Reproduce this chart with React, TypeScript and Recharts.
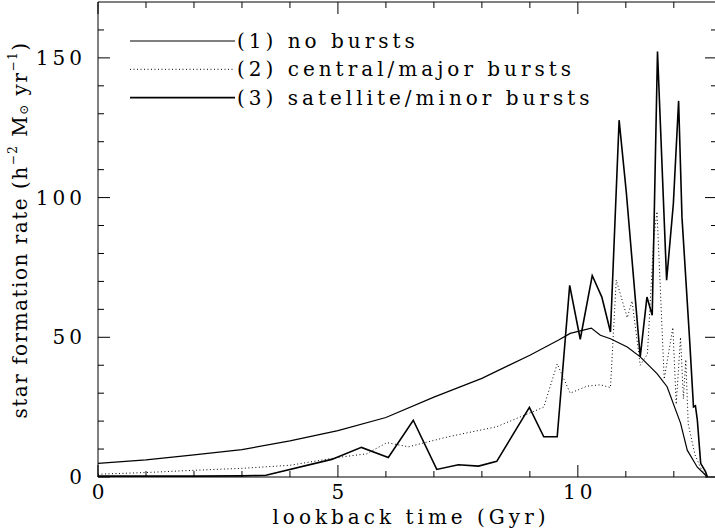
import { LineChart, Line, XAxis, YAxis } from "recharts";

// lookback time (Gyr) and star formation rate samples for each model
const tNoBursts = [0, 1, 2, 3, 4, 5, 6, 7, 8, 9, 9.6, 9.84, 10.28, 10.47, 10.68, 11.03, 11.3, 11.65, 11.86, 12.14, 12.28, 12.49, 12.7];
const sfrNoBursts = [4.9, 6.1, 7.9, 9.8, 12.9, 16.6, 21.3, 28.6, 35.3, 43.6, 49, 51.4, 53.3, 50.7, 49.5, 46.5, 43, 37, 32.3, 19.3, 9.6, 3.5, 0];

const tCentral = [0, 1, 2, 3, 4, 5, 5.6, 6.02, 6.47, 7.3, 8.31, 9.29, 9.57, 9.84, 10.19, 10.47, 10.68, 10.8, 11.03, 11.13, 11.3, 11.45, 11.58, 11.65, 11.8, 11.98, 12.05, 12.14, 12.2, 12.25, 12.3, 12.44, 12.58, 12.7];
const sfrCentral = [1, 1.6, 2.4, 3.1, 4.2, 7, 8.3, 12.3, 10.8, 14.4, 18, 25, 40.5, 30, 32.5, 33, 32, 70.5, 57, 63, 40, 44, 85, 95, 35, 53.5, 26, 50, 28, 42, 19, 8, 2.5, 0];

const tSatellite = [0, 1, 2, 3, 3.5, 4.87, 5.49, 6.05, 6.57, 7.06, 7.51, 7.93, 8.31, 8.99, 9.29, 9.57, 9.83, 10.05, 10.3, 10.5, 10.68, 10.86, 11.01, 11.3, 11.44, 11.55, 11.66, 11.85, 11.99, 12.1, 12.17, 12.33, 12.41, 12.45, 12.49, 12.56, 12.66, 12.7];
const sfrSatellite = [0.3, 0.3, 0.3, 0.4, 0.6, 6.3, 10.6, 7, 20.3, 2.7, 4.4, 3.9, 5.6, 24.9, 14.4, 14.4, 68.6, 49.3, 72.1, 64.4, 51.9, 127.7, 101.9, 43, 64.4, 57.9, 152.3, 70.4, 97.7, 134.6, 93, 48.9, 25.1, 25.5, 20.4, 4.9, 1.9, 0];

const legendLabels = ["(1) no bursts", "(2) central/major bursts", "(3) satellite/minor bursts"];

const xTicks = [0, 1, 2, 3, 4, 5, 6, 7, 8, 9, 10, 11, 12];
const yTicks = [0, 10, 20, 30, 40, 50, 60, 70, 80, 90, 100, 110, 120, 130, 140, 150, 160];

const zip = (t: number[], v: number[]) => t.map((x, i) => ({ t: x, v: v[i] }));

const FONT = "'DejaVu Serif', serif";
const textStyle = { fontFamily: FONT, fontSize: 20, letterSpacing: 4, fill: "#000" };

function BottomTick({ x, y, payload }: any) {
  const major = payload.value % 5 === 0;
  return (
    <g>
      <line x1={x} y1={y} x2={x} y2={y - (major ? 12 : 6)} stroke="#000" />
      {major && (
        <text x={x + 2} y={y + 15} textAnchor="middle" dominantBaseline="central" style={textStyle}>
          {payload.value}
        </text>
      )}
    </g>
  );
}

function TopTick({ x, y, payload }: any) {
  const major = payload.value % 5 === 0;
  return <line x1={x} y1={y} x2={x} y2={y + (major ? 12 : 6)} stroke="#000" />;
}

function LeftTick({ x, y, payload }: any) {
  const major = payload.value % 50 === 0;
  return (
    <g>
      <line x1={x} y1={y} x2={x + (major ? 12 : 6)} y2={y} stroke="#000" />
      {major && (
        <text x={x - 12} y={y} textAnchor="end" dominantBaseline="central" style={textStyle}>
          {payload.value}
        </text>
      )}
    </g>
  );
}

function RightTick({ x, y, payload }: any) {
  const major = payload.value % 50 === 0;
  return <line x1={x} y1={y} x2={x - (major ? 12 : 6)} y2={y} stroke="#000" />;
}

function XTitle() {
  return (
    <text x={411} y={517} textAnchor="middle" dominantBaseline="central" style={textStyle}>
      lookback time (Gyr)
    </text>
  );
}

function YTitle() {
  return (
    <text
      x={20}
      y={230}
      transform="rotate(-90 20 230)"
      textAnchor="middle"
      dominantBaseline="central"
      style={{ ...textStyle, letterSpacing: 1.5 }}
    >
      star formation rate (h
      <tspan dy={-7} fontSize={12}>−2</tspan>
      <tspan dy={7}> M</tspan>
      <tspan dy={4} fontSize={12}>⊙</tspan>
      <tspan dy={-4}> yr</tspan>
      <tspan dy={-7} fontSize={12}>−1</tspan>
      <tspan dy={7}>)</tspan>
    </text>
  );
}

const legendStyles = [
  { width: 1.2, dash: undefined },
  { width: 1, dash: "1 2.5" },
  { width: 1.6, dash: undefined },
];

function LegendBox() {
  return (
    <svg width={715} height={130} style={{ position: "absolute", left: 0, top: 0, pointerEvents: "none" }}>
      {legendLabels.map((label, i) => {
        const y = 41 + i * 28.3;
        return (
          <g key={label}>
            <line x1={130} x2={235} y1={y} y2={y} stroke="#000" strokeWidth={legendStyles[i].width} strokeDasharray={legendStyles[i].dash} />
            <text x={237} y={y} dominantBaseline="central" style={textStyle}>
              {label}
            </text>
          </g>
        );
      })}
    </svg>
  );
}

export default function App() {
  return (
    <div style={{ position: "absolute", left: 0, top: 0, width: 715, height: 531, overflow: "hidden", background: "#fff" }}>
      <LineChart width={718} height={531} margin={{ top: 1, right: 0, bottom: 53, left: 97 }}>
        <XAxis
          xAxisId="bottom"
          type="number"
          dataKey="t"
          domain={[0, 12.9]}
          ticks={xTicks}
          height={1}
          tickSize={0}
          tickMargin={0}
          tickLine={false}
          tick={<BottomTick />}
          axisLine={{ stroke: "#000" }}
          allowDataOverflow
          label={<XTitle />}
        />
        <XAxis
          xAxisId="top"
          orientation="top"
          type="number"
          dataKey="t"
          domain={[0, 12.9]}
          ticks={xTicks}
          height={1}
          tickSize={0}
          tickMargin={0}
          tickLine={false}
          tick={<TopTick />}
          axisLine={{ stroke: "#000" }}
          allowDataOverflow
        />
        <YAxis
          yAxisId="left"
          type="number"
          domain={[0, 170]}
          ticks={yTicks}
          width={1}
          tickSize={0}
          tickMargin={0}
          tickLine={false}
          tick={<LeftTick />}
          axisLine={{ stroke: "#000" }}
          allowDataOverflow
          label={<YTitle />}
        />
        <YAxis
          yAxisId="right"
          orientation="right"
          type="number"
          domain={[0, 170]}
          ticks={yTicks}
          width={1}
          tickSize={0}
          tickMargin={0}
          tickLine={false}
          tick={<RightTick />}
          axisLine={{ stroke: "#000" }}
          allowDataOverflow
        />
        <Line
          xAxisId="bottom"
          yAxisId="left"
          data={zip(tNoBursts, sfrNoBursts)}
          dataKey="v"
          type="linear"
          stroke="#000"
          strokeWidth={1.2}
          dot={false}
          isAnimationActive={false}
        />
        <Line
          xAxisId="bottom"
          yAxisId="left"
          data={zip(tCentral, sfrCentral)}
          dataKey="v"
          type="linear"
          stroke="#000"
          strokeWidth={1}
          strokeDasharray="1 2.5"
          dot={false}
          isAnimationActive={false}
        />
        <Line
          xAxisId="bottom"
          yAxisId="left"
          data={zip(tSatellite, sfrSatellite)}
          dataKey="v"
          type="linear"
          stroke="#000"
          strokeWidth={1.6}
          dot={false}
          isAnimationActive={false}
        />
      </LineChart>
      <LegendBox />
    </div>
  );
}
